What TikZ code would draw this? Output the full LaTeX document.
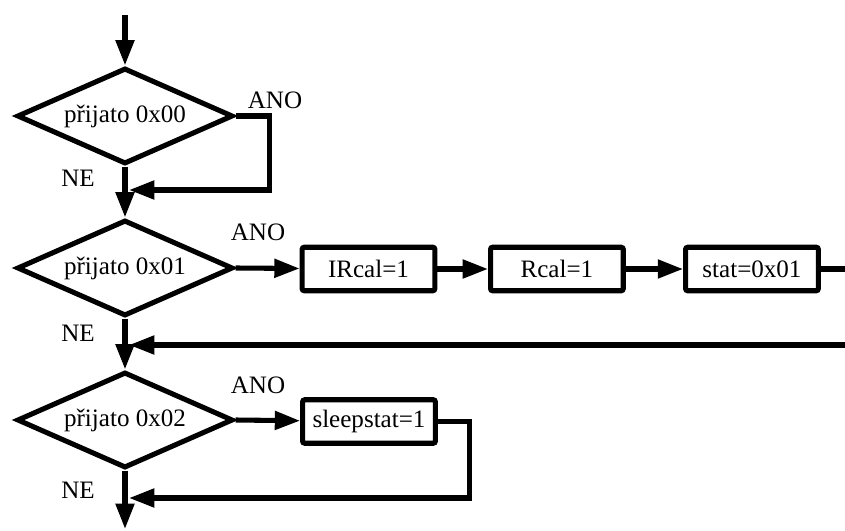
\documentclass[tikz,border=0pt]{standalone}
\usepackage{fontspec}
\setmainfont{Liberation Serif}
\usetikzlibrary{positioning,arrows.meta,shapes.geometric}

\begin{document}
\begin{tikzpicture}[
    x=0.75pt, y=-0.75pt,
    font=\fontsize{18.8}{22}\selectfont,
    line width=3.8pt,
    dec/.style={draw, diamond, aspect=2.25, inner sep=0pt,
                minimum width=162pt, minimum height=72pt},
    box/.style={draw, rectangle, rounded corners=1.5pt, inner sep=0pt,
                minimum width=99.5pt, minimum height=32.6pt},
    arr/.style={-{Triangle[length=19pt,width=13.5pt]}}
  ]
    \clip (0,0) rectangle (845,531);

    % decisions
    \node[dec] (d1) at (125,116) {přijato 0x00};
    \node[dec] (d2) at (125,268) {přijato 0x01};
    \node[dec] (d3) at (125,420) {přijato 0x02};

    % actions
    \node[box] (ir) at (368.5,269) {IRcal=1};
    \node[box, right=38pt of ir] (rc) {Rcal=1};
    \node[box, right=43pt of rc] (st) {stat=0x01};
    \node[box] (sl) at (369,421.5) {sleepstat=1};

    % branch labels
    \node (ano1) at (275,100) {ANO};
    \node (ano2) at (258,232) {ANO};
    \node (ano3) at (258,385) {ANO};
    \node (ne1) at (78,178) {NE};
    \node (ne2) at (78,333) {NE};
    \node (ne3) at (78,490) {NE};

    \coordinate (start) at (125,15);
    \coordinate (j1) at (125,190);
    \coordinate (j2) at (125,345);
    \coordinate (j3) at (125,498);
    \coordinate (stop) at (125,529);

    \draw[arr] (start) -- (d1.north);
    \draw[arr] (d1.east) -- ++(34,0) |- ([xshift=3pt]j1);
    \draw[arr] (d1.south) -- (d2.north);

    \draw[arr] (d2.east) -- (ir);
    \draw[arr] (ir) -- (rc);
    \draw[arr] (rc) -- (st);
    \draw[arr] (st.east) -- ++(60,0) |- ([xshift=3pt]j2);
    \draw[arr] (d2.south) -- (d3.north);

    \draw[arr] (d3.east) -- (sl);
    \draw[arr] (sl.east) -- ++(32,0) |- ([xshift=3pt]j3);
    \draw[arr] (d3.south) -- (stop);
\end{tikzpicture}
\end{document}
